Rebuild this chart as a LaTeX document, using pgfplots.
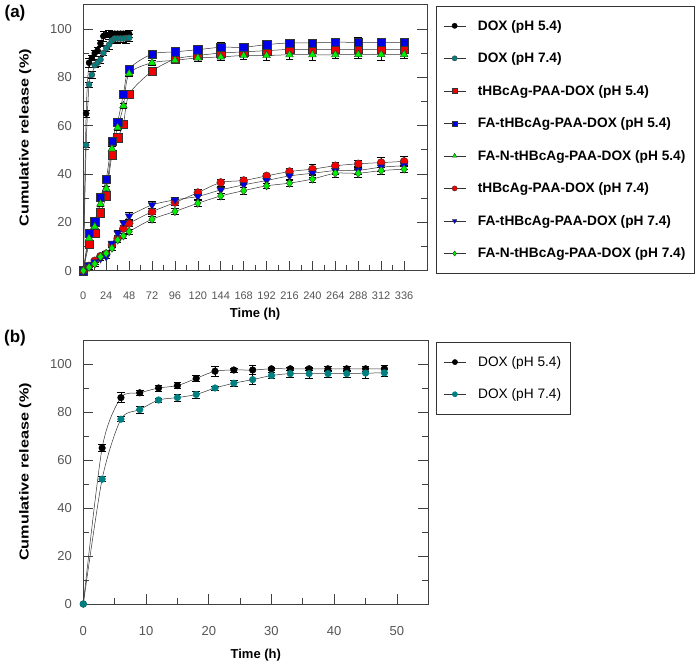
\documentclass[border=0pt]{standalone}
\usepackage{fontspec}
\setmainfont{Liberation Sans}
\usepackage{graphicx}
\usepackage{pgfplots}
\pgfplotsset{compat=1.18}
\definecolor{tealc}{RGB}{0,128,128}
\definecolor{greenc}{RGB}{0,240,0}
\definecolor{redc}{RGB}{240,0,0}
\definecolor{bluec}{RGB}{0,0,230}
\definecolor{tickgray}{RGB}{85,85,85}
\pgfplotsset{
  myax/.style={
    scale only axis,
    tick align=inside,
    xtick pos=left,
    ytick pos=both,
    major tick length=10pt,
    minor tick length=6pt,
    axis line style={black!75, line width=0.8pt},
    every tick/.style={black!75, line width=0.7pt},
    yticklabel style={font=\fontsize{13}{14}\selectfont, text=tickgray, xshift=-8pt},
    /pgf/number format/assume math mode=true,
    label style={font=\bfseries\fontsize{13}{14}\selectfont},
    ylabel style={yshift=12pt},
    ymin=0, ymax=110,
    ytick={0,20,...,100},
    minor y tick num=1,
    ylabel={\scalebox{1.25}[1]{Cumulative release (\%)}},
    xlabel={Time (h)},
    legend cell align=left,
    legend image code/.code={
      \draw[mark repeat=2,mark phase=2,#1,mark size=2.6pt]
        plot coordinates {(0pt,0pt) (11pt,0pt) (22pt,0pt)};
    },
  },
  ser/.style={color=black!80, line width=0.5pt, smooth, tension=0.45,
    /pgfplots/error bars/y dir=both, /pgfplots/error bars/y explicit,
    /pgfplots/error bars/error bar style={black, line width=0.6pt},
    /pgfplots/error bars/error mark options={rotate=90, mark size=3.8pt, black, line width=0.6pt}},
}
\begin{document}
\begin{tikzpicture}
\useasboundingbox (0pt,0pt) rectangle (697pt,664pt);
\node[font=\bfseries\fontsize{17}{18}\selectfont] at (15pt,651pt) {(a)};
\node[font=\bfseries\fontsize{17}{18}\selectfont] at (15pt,326pt) {(b)};
\begin{axis}[myax,
  at={(83.3pt,393.3pt)}, anchor=south west,
  width=343.7pt, height=266pt,
  xmin=0, xmax=360,
  xtick={0,24,...,336},
  minor x tick num=1,
  xticklabel style={font=\fontsize{11}{12}\selectfont, text=tickgray, yshift=-18pt},
  xlabel style={yshift=-1pt},
  legend style={at={(1,1)}, anchor=north west, xshift=9pt, yshift=-1pt,
    draw=black!80, line width=0.8pt, fill=white,
    font=\bfseries\fontsize{13.7}{14}\selectfont,
    row sep=17.1pt, inner xsep=7pt, inner ysep=12pt,
    /tikz/column 1/.style={column sep=10pt}},
]
\addplot[ser, mark=*, mark size=3pt, mark options={fill=black, draw=black, solid}]
 coordinates {(0,0)+-(0,0) (3,65)+-(0,1.5) (6,86)+-(0,2) (9,88)+-(0,1) (12,90)+-(0,1.2) (15,91)+-(0,1.2) (18,94)+-(0,1.3) (21,97)+-(0,2.2) (24,97.5)+-(0,0.8) (27,97.5)+-(0,2) (30,98)+-(0,0.8) (33,98)+-(0,0.8) (36,98)+-(0,0.8) (39,98)+-(0,1.2) (42,98)+-(0,1) (45,98)+-(0,1.2) (48,98)+-(0,1.5)};
\addlegendentry{DOX (pH 5.4)}
\addplot[ser, mark=*, mark size=3pt, mark options={fill=tealc, draw=black!70, solid}]
 coordinates {(0,0)+-(0,0) (3,52)+-(0,1) (6,77)+-(0,1) (9,81)+-(0,1.5) (12,85)+-(0,0.8) (15,86)+-(0,1.5) (18,87.3)+-(0,1.5) (21,90)+-(0,0.8) (24,92)+-(0,1.2) (27,93.5)+-(0,2) (30,95.2)+-(0,1.2) (33,96)+-(0,1.5) (36,96)+-(0,2) (39,96)+-(0,1.5) (42,96)+-(0,1.5) (45,96.2)+-(0,2) (48,96.3)+-(0,1.5)};
\addlegendentry{DOX (pH 7.4)}
\addplot[ser, mark=square*, mark size=4.2pt, mark options={fill=redc, draw=black!80, solid, line width=0.4pt}]
 coordinates {(0,0)+-(0,0) (6,11)+-(0,1) (12,15.5)+-(0,1) (18,24)+-(0,1) (24,31)+-(0,1.2) (30,48)+-(0,1.2) (36,55)+-(0,1) (42,60.5)+-(0,1) (48,73)+-(0,1.2) (72,82.5)+-(0,1.5) (96,87.5)+-(0,1.5) (120,89)+-(0,1.5) (144,90)+-(0,1.5) (168,90.5)+-(0,1.5) (192,91)+-(0,1.5) (216,91.5)+-(0,1.5) (240,91.5)+-(0,1.5) (264,91.5)+-(0,1.5) (288,91.5)+-(0,1.5) (312,91.5)+-(0,1.5) (336,91.5)+-(0,1.5)};
\addlegendentry{tHBcAg-PAA-DOX (pH 5.4)}
\addplot[ser, mark=square*, mark size=4.2pt, mark options={fill=bluec, draw=black!80, solid, line width=0.4pt}]
 coordinates {(0,0)+-(0,0) (6,15.5)+-(0,1) (12,20.3)+-(0,1) (18,30.4)+-(0,1) (24,37.8)+-(0,1) (30,53.5)+-(0,1) (36,61.5)+-(0,1) (42,73)+-(0,1) (48,83.4)+-(0,1) (72,89.6)+-(0,1) (96,90.5)+-(0,1.2) (120,91.4)+-(0,1.2) (144,92.4)+-(0,2) (168,92.4)+-(0,1.2) (192,93.5)+-(0,1.2) (216,94.2)+-(0,1.2) (240,94.2)+-(0,1.2) (264,94.5)+-(0,1.2) (288,94.4)+-(0,2.2) (312,94.4)+-(0,1.2) (336,94.4)+-(0,1.2)};
\addlegendentry{FA-tHBcAg-PAA-DOX (pH 5.4)}
\addplot[ser, mark=triangle*, mark size=4.5pt, mark options={fill=greenc, draw=black!80, solid, line width=0.4pt}]
 coordinates {(0,0)+-(0,0) (6,13.4)+-(0,1) (12,18.2)+-(0,1) (18,27.6)+-(0,1) (24,34)+-(0,1) (30,50.4)+-(0,1) (36,59.2)+-(0,1) (42,68.2)+-(0,1) (48,81.5)+-(0,1) (72,86)+-(0,1.2) (96,87)+-(0,1.2) (120,88)+-(0,1.5) (144,88.4)+-(0,1.5) (168,89)+-(0,1.5) (192,89)+-(0,2) (216,89.3)+-(0,2) (240,89.3)+-(0,2.5) (264,89.3)+-(0,1.5) (288,89.4)+-(0,1.5) (312,89.4)+-(0,2.2) (336,89.4)+-(0,1.5)};
\addlegendentry{FA-N-tHBcAg-PAA-DOX (pH 5.4)}
\addplot[ser, mark=*, mark size=4pt, mark options={fill=redc, draw=black!80, solid, line width=0.4pt}]
 coordinates {(0,0)+-(0,0) (6,2)+-(0,0.8) (12,4.1)+-(0,0.8) (18,6)+-(0,0.8) (24,7)+-(0,0.8) (30,10.6)+-(0,1) (36,13.4)+-(0,1) (42,17.5)+-(0,1.2) (48,19.6)+-(0,1.2) (72,24.4)+-(0,1.2) (96,28.2)+-(0,1.2) (120,32.3)+-(0,1.2) (144,36.5)+-(0,1.5) (168,37.3)+-(0,1.5) (192,39.2)+-(0,1.2) (216,41)+-(0,1.5) (240,42)+-(0,2) (264,43.4)+-(0,1.5) (288,44.2)+-(0,1.5) (312,44.7)+-(0,2) (336,45.2)+-(0,2)};
\addlegendentry{tHBcAg-PAA-DOX (pH 7.4)}
\addplot[ser, mark=triangle*, mark size=4.5pt, mark options={rotate=180, fill=bluec, draw=black!80, solid, line width=0.4pt}]
 coordinates {(0,0)+-(0,0) (6,2.4)+-(0,0.8) (12,3.6)+-(0,0.8) (18,5)+-(0,0.8) (24,5.8)+-(0,0.8) (30,11.3)+-(0,1) (36,15.5)+-(0,1) (42,19.8)+-(0,1.2) (48,22.6)+-(0,1.5) (72,27.2)+-(0,1.5) (96,29.3)+-(0,1.2) (120,30.7)+-(0,1.2) (144,33.4)+-(0,1.2) (168,35.5)+-(0,1.2) (192,37.3)+-(0,1.2) (216,39.2)+-(0,1.2) (240,40.3)+-(0,1.5) (264,41.4)+-(0,1.5) (288,41.5)+-(0,1.5) (312,42.8)+-(0,1.5) (336,43.4)+-(0,1.5)};
\addlegendentry{FA-tHBcAg-PAA-DOX (pH 7.4)}
\addplot[ser, mark=diamond*, mark size=4.2pt, mark options={fill=greenc, draw=black!80, solid, line width=0.4pt}]
 coordinates {(0,0)+-(0,0) (6,1.4)+-(0,0.8) (12,2.8)+-(0,0.8) (18,5.8)+-(0,0.8) (24,7.2)+-(0,0.8) (30,9.3)+-(0,0.8) (36,12.7)+-(0,1) (42,14.4)+-(0,1) (48,16.2)+-(0,1) (72,21.3)+-(0,1.2) (96,24.5)+-(0,1.2) (120,27.9)+-(0,1.2) (144,30.9)+-(0,1.2) (168,33.1)+-(0,1.5) (192,35.1)+-(0,1.2) (216,36.2)+-(0,1.2) (240,37.9)+-(0,1.5) (264,40.3)+-(0,1.5) (288,40.3)+-(0,1.5) (312,41.4)+-(0,1.5) (336,42)+-(0,1.5)};
\addlegendentry{FA-N-tHBcAg-PAA-DOX (pH 7.4)}
\end{axis}
\begin{axis}[myax,
  at={(83.3pt,60pt)}, anchor=south west,
  width=345pt, height=264pt,
  xmin=0, xmax=55,
  xtick={0,10,...,50},
  minor x tick num=1,
  xticklabel style={font=\fontsize{13}{14}\selectfont, text=tickgray, yshift=-19pt},
  xlabel style={yshift=-6pt},
  legend style={at={(1,1)}, anchor=north west, xshift=8pt, yshift=-2pt,
    draw=black!80, line width=0.8pt, fill=white,
    font=\fontsize{13.7}{14}\selectfont,
    row sep=16.7pt, inner xsep=7pt, inner ysep=12pt,
    /tikz/column 1/.style={column sep=10pt}},
]
\addplot[ser, mark=*, mark size=3.3pt, mark options={fill=black, draw=black, solid}]
 coordinates {(0,0)+-(0,0) (3,65)+-(0,1.5) (6,86)+-(0,2) (9,88)+-(0,1) (12,90)+-(0,1.2) (15,91)+-(0,1.2) (18,94)+-(0,1.3) (21,97)+-(0,2.2) (24,97.5)+-(0,0.8) (27,97.5)+-(0,2) (30,98)+-(0,0.8) (33,98)+-(0,0.8) (36,98)+-(0,0.8) (39,98)+-(0,1.2) (42,98)+-(0,1) (45,98)+-(0,1.2) (48,98)+-(0,1.5)};
\addlegendentry{DOX (pH 5.4)}
\addplot[ser, mark=*, mark size=3.3pt, mark options={fill=tealc, draw=tealc, solid}]
 coordinates {(0,0)+-(0,0) (3,52)+-(0,1) (6,77)+-(0,1) (9,81)+-(0,1.5) (12,85)+-(0,0.8) (15,86)+-(0,1.5) (18,87.3)+-(0,1.5) (21,90)+-(0,0.8) (24,92)+-(0,1.2) (27,93.5)+-(0,2) (30,95.2)+-(0,1.2) (33,96)+-(0,1.5) (36,96)+-(0,2) (39,96)+-(0,1.5) (42,96)+-(0,1.5) (45,96.2)+-(0,2) (48,96.3)+-(0,1.5)};
\addlegendentry{DOX (pH 7.4)}
\end{axis}
\end{tikzpicture}
\end{document}
